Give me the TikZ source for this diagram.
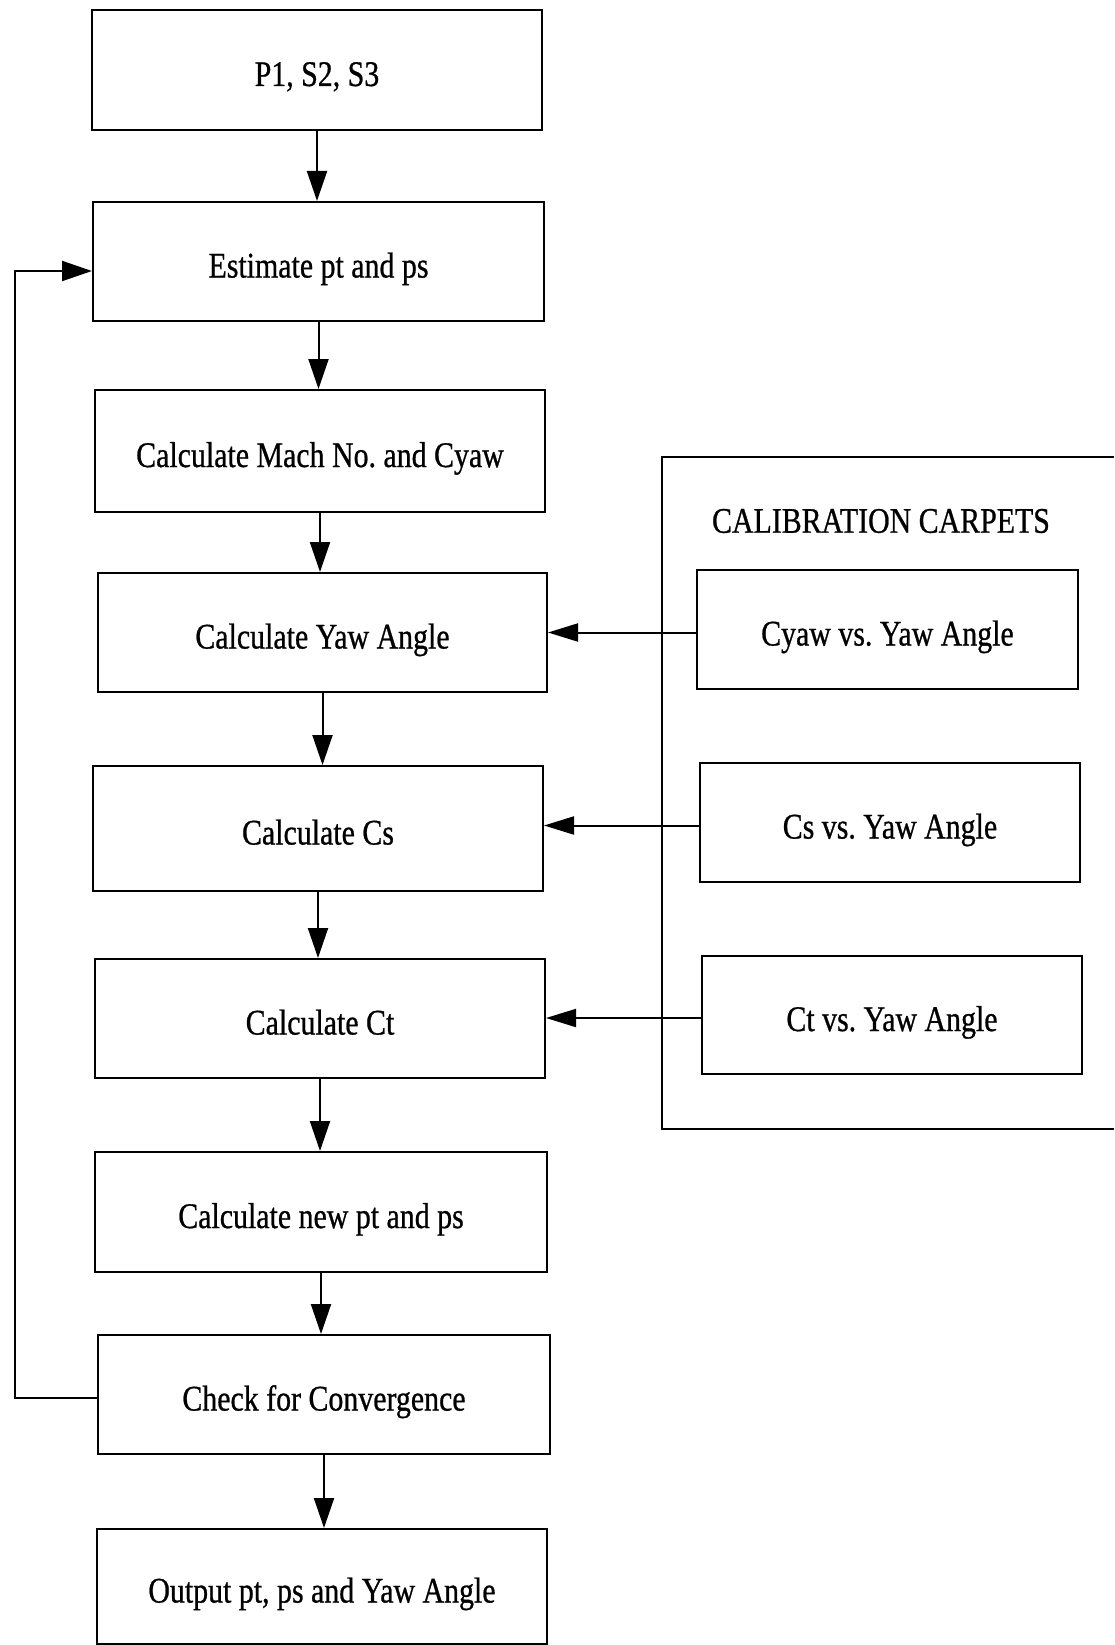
\documentclass[tikz,border=0pt]{standalone}
\usepackage{graphicx}
\usepackage{fontspec}
\setmainfont{Liberation Serif}
\newfontfamily\boxfont{Liberation Serif}[FakeBold=0.8]
\usetikzlibrary{arrows.meta}
\frenchspacing

% narrow the set text a little, as in a condensed typewriter face
\newcommand{\lbl}[1]{\scalebox{0.83}[1]{#1}}

\tikzset{
  procbox/.style={draw, line width=2pt, inner sep=0pt,
    minimum width=450pt, minimum height=120pt,
    text height=40pt, text depth=8pt,
    font=\boxfont\fontsize{36}{40}\selectfont},
  carpetbox/.style={procbox, minimum width=380pt, minimum height=119pt},
  flow/.style={line width=2pt, -{Triangle[length=30pt,width=20pt]}},
  feed/.style={line width=2pt, -{Triangle[length=30pt,width=18pt]}},
  plain/.style={line width=2pt}
}

\begin{document}
\begin{tikzpicture}[x=1pt, y=-1pt]
  \useasboundingbox (0,0) rectangle (1114,1645);
  \fill[white] (0,0) rectangle (1114,1645);

  % main iteration column
  \node[procbox] (inp)  at (317,70)     {\lbl{P1, S2, S3}};
  \node[procbox, minimum width=451pt, minimum height=119pt] (est) at (318.5,261.5) {\lbl{Estimate pt and ps}};
  \node[procbox, minimum height=122pt] (mach) at (320,451)   {\lbl{Calculate Mach No. and Cyaw}};
  \node[procbox, minimum width=449pt, minimum height=119pt] (yaw) at (322.5,632.5) {\lbl{Calculate Yaw Angle}};
  \node[procbox, minimum height=125pt] (cs)   at (318,828.5)  {\lbl{Calculate Cs}};
  \node[procbox, minimum height=119pt] (ct)   at (320,1018.5) {\lbl{Calculate Ct}};
  \node[procbox, minimum width=452pt] (newp) at (321,1212)   {\lbl{Calculate new pt and ps}};
  \node[procbox, minimum width=452pt, minimum height=119pt] (conv) at (324,1394.5) {\lbl{Check for Convergence}};
  \node[procbox, minimum height=115pt] (outp) at (322,1586.5) {\lbl{Output pt, ps and Yaw Angle}};

  % calibration carpets panel (open towards the right edge)
  \draw[plain] (1114,457) -- (662,457) -- (662,1129) -- (1114,1129);
  \node[font=\boxfont\fontsize{36}{40}\selectfont] (cctitle) at (881,521) {\lbl{CALIBRATION CARPETS}};
  \node[carpetbox, minimum width=381pt] (cyawc) at (887.5,629.5) {\lbl{Cyaw vs. Yaw Angle}};
  \node[carpetbox] (csc) at (890,822.5) {\lbl{Cs vs. Yaw Angle}};
  \node[carpetbox, minimum height=118pt] (ctc) at (892,1015) {\lbl{Ct vs. Yaw Angle}};

  % downward flow
  \draw[flow] (inp.south)  -- (inp.south  |- est.north);
  \draw[flow] (est.south)  -- (est.south  |- mach.north);
  \draw[flow] (mach.south) -- (mach.south |- yaw.north);
  \draw[flow] (yaw.south)  -- (yaw.south  |- cs.north);
  \draw[flow] (cs.south)   -- (cs.south   |- ct.north);
  \draw[flow] (ct.south)   -- (ct.south   |- newp.north);
  \draw[flow] (newp.south) -- (newp.south |- conv.north);
  \draw[flow] (conv.south) -- (conv.south |- outp.north);

  % carpet look-ups
  \draw[feed] ([yshift=-3pt]cyawc.west) -- ([yshift=-3pt]cyawc.west -| yaw.east);
  \draw[feed] ([yshift=-3pt]csc.west)   -- ([yshift=-3pt]csc.west   -| cs.east);
  \draw[feed] ([yshift=-3pt]ctc.west)   -- ([yshift=-3pt]ctc.west   -| ct.east);

  % convergence loop back to the estimate
  \coordinate (loopx) at (15,0);
  \draw[flow] ([yshift=-3.5pt]conv.west) -- ([yshift=-3.5pt]conv.west -| loopx)
              |- ([yshift=-9.5pt]est.west);
\end{tikzpicture}
\end{document}
